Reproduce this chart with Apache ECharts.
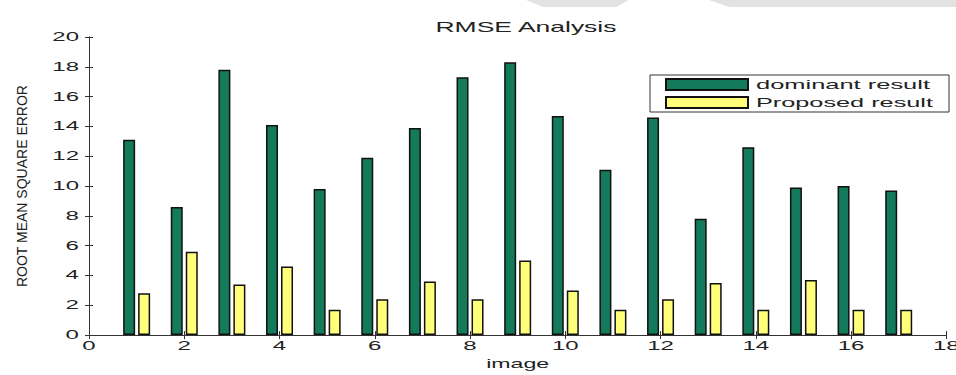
<!DOCTYPE html>
<html>
<head>
<meta charset="utf-8">
<script src="https://cdn.jsdelivr.net/npm/echarts@6/dist/echarts.min.js"></script>
<style>
  html, body { margin: 0; padding: 0; background: #fff; }
  #chart { width: 956px; height: 375px; }
</style>
</head>
<body>
<div id="chart"></div>
<script>
// ---- data ----
const images = [1, 2, 3, 4, 5, 6, 7, 8, 9, 10, 11, 12, 13, 14, 15, 16, 17];
const dominantResult = [13.1, 8.6, 17.8, 14.1, 9.8, 11.9, 13.9, 17.3, 18.3, 14.7, 11.1, 14.6, 7.8, 12.6, 9.9, 10.0, 9.7];
const proposedResult = [2.8, 5.6, 3.4, 4.6, 1.7, 2.4, 3.6, 2.4, 5.0, 3.0, 1.7, 2.4, 3.5, 1.7, 3.7, 1.7, 1.7];
const xTicks = { min: 0, max: 18, interval: 2 };
const yTicks = { min: 0, max: 20, interval: 2 };
const seriesNames = ['dominant result', 'Proposed result'];

const FONT = 'Liberation Sans, Arial, sans-serif';
const chart = echarts.init(document.getElementById('chart'), null, { renderer: 'svg' });

const axisLine = { show: true, lineStyle: { color: '#333', width: 1 } };
const tick = { show: true, inside: true, length: 4, lineStyle: { color: '#333' } };
const option = {
  animation: false,
  backgroundColor: '#fff',
  title: {
    text: 'RMSE Analysis',
    left: 521, top: 14, textAlign: 'center',
    textStyle: { fontFamily: FONT, fontSize: 15, fontWeight: 'normal', color: '#222' }
  },
  grid: { left: 89, right: 3, top: 37, bottom: 35 },
  legend: {
    data: seriesNames,
    orient: 'vertical',
    left: 660, top: 75,
    padding: [3, 5, 3, 5],
    itemWidth: 82, itemHeight: 11, itemGap: 5,
    icon: 'rect',
    textStyle: { fontFamily: FONT, fontSize: 13, color: '#222', padding: [0, 0, 0, 3] }
  },
  graphic: [
    { type: 'polygon', z: 0, shape: { points: [[526, 0], [629, 0], [616, 7], [543, 7]] }, style: { fill: '#e2e2e2' } },
    { type: 'polygon', z: 0, shape: { points: [[709, 0], [956, 0], [956, 7], [729, 7]] }, style: { fill: '#e2e2e2' } },
    { type: 'rect', z: 3, shape: { x: 650, y: 75, width: 299, height: 37 }, style: { fill: '#fff', stroke: '#333', lineWidth: 1 } }
  ],
  xAxis: [
    {
      type: 'value', min: xTicks.min, max: xTicks.max, interval: xTicks.interval,
      name: 'image', nameLocation: 'middle', nameGap: 17,
      nameTextStyle: { fontFamily: FONT, fontSize: 13, color: '#222' },
      axisLine: axisLine, axisTick: tick,
      axisLabel: { fontFamily: FONT, fontSize: 12, color: '#222', margin: 5 },
      splitLine: { show: false }
    },
    {
      type: 'value', position: 'top', min: xTicks.min, max: xTicks.max, interval: xTicks.interval,
      axisLine: axisLine, axisTick: tick,
      axisLabel: { show: false }, splitLine: { show: false }
    }
  ],
  yAxis: [
    {
      type: 'value', min: yTicks.min, max: yTicks.max, interval: yTicks.interval,
      name: 'ROOT MEAN SQUARE ERROR', nameLocation: 'middle', nameGap: 60,
      nameTextStyle: { fontFamily: 'Liberation Sans Narrow, Liberation Sans, sans-serif', fontSize: 14, color: '#222' },
      axisLine: axisLine, axisTick: tick,
      axisLabel: { fontFamily: FONT, fontSize: 12, color: '#222', margin: 10 },
      splitLine: { show: false }
    },
    {
      type: 'value', position: 'right', min: yTicks.min, max: yTicks.max, interval: yTicks.interval,
      axisLine: axisLine, axisTick: tick,
      axisLabel: { show: false }, splitLine: { show: false }
    }
  ],
  series: [
    {
      name: seriesNames[0], type: 'bar', barWidth: 12, barGap: '25%',
      itemStyle: { color: '#137a5c', borderColor: '#111', borderWidth: 1.5 },
      data: images.map((x, i) => [x, dominantResult[i]])
    },
    {
      name: seriesNames[1], type: 'bar', barWidth: 12, barGap: '25%',
      itemStyle: { color: '#ffff7a', borderColor: '#111', borderWidth: 1.5 },
      data: images.map((x, i) => [x, proposedResult[i]])
    }
  ]
};
chart.setOption(option);

// The reference's horizontal text is stretched sideways; emulate with SVG textLength.
const targets = {
  'RMSE Analysis': 181,
  'dominant result': 174,
  'Proposed result': 177,
  'image': 63
};
function stretchText() {
  document.querySelectorAll('#chart svg text').forEach(t => {
    const s = t.textContent;
    if (s === 'ROOT MEAN SQUARE ERROR') return;
    if (t.getAttribute('data-base') === null) {
      const len = t.getComputedTextLength();
      if (!len) return;
      t.setAttribute('data-base', len);
    }
    const base = parseFloat(t.getAttribute('data-base'));
    let target = targets[s];
    if (target === undefined) target = base * 2.0;
    t.setAttribute('textLength', target.toFixed(1));
    t.setAttribute('lengthAdjust', 'spacingAndGlyphs');
  });
}
stretchText();
chart.on('finished', stretchText);
setTimeout(stretchText, 50);
</script>
</body>
</html>
